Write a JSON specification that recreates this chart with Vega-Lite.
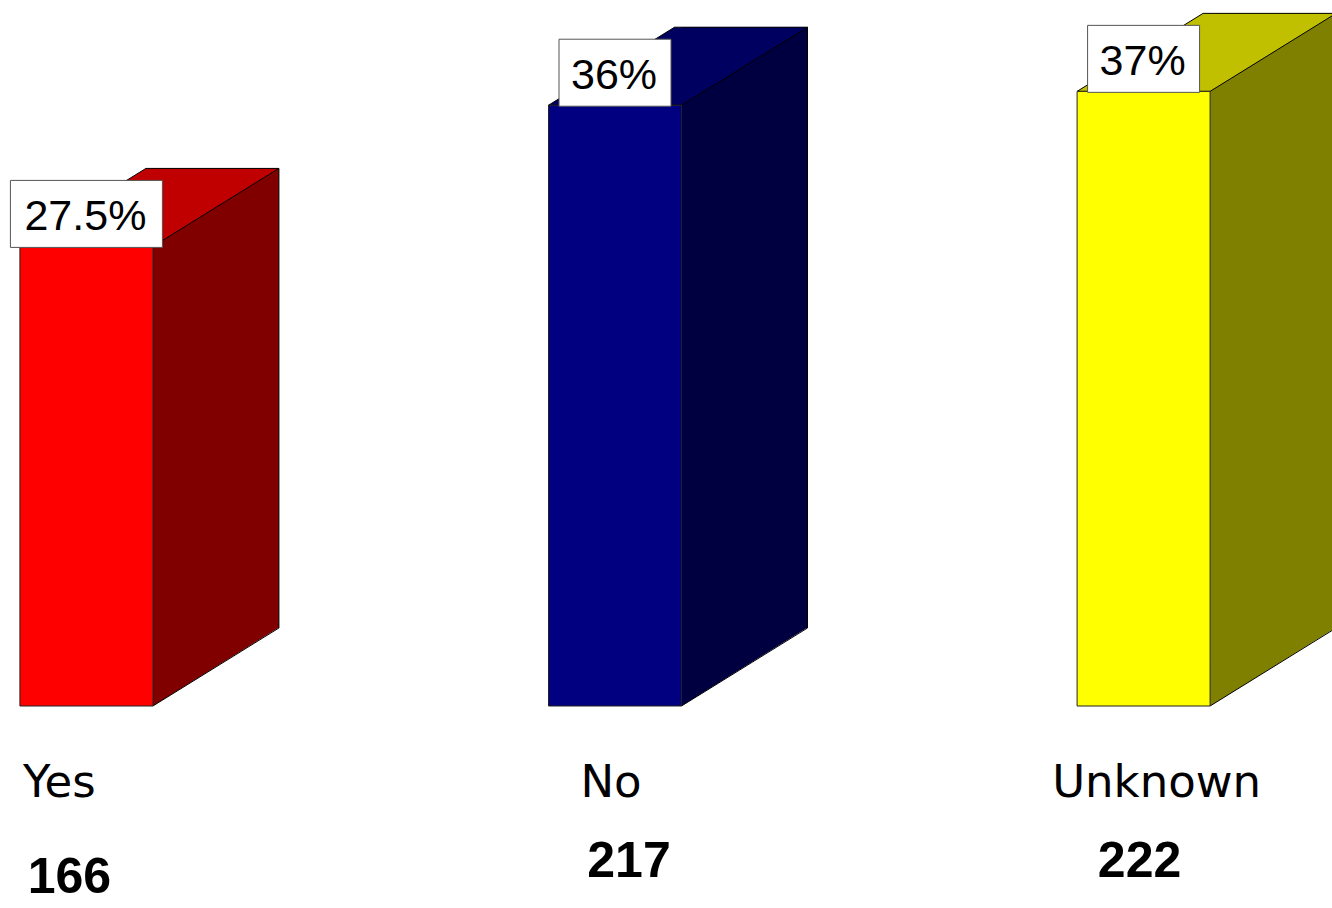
{
  "$schema": "https://vega.github.io/schema/vega-lite/v6.json",
  "width": 1332,
  "height": 706,
  "autosize": {"type": "none"},
  "padding": {"left": 0, "top": 0, "right": 0, "bottom": 202},
  "background": "white",
  "config": {"view": {"stroke": null}},
  "data": {
    "values": [
      {"cat": "Yes", "count": 166, "pct": "27.5%"},
      {"cat": "No", "count": 217, "pct": "36%"},
      {"cat": "Unknown", "count": 222, "pct": "37%"}
    ]
  },
  "encoding": {
    "x": {
      "field": "cat",
      "type": "nominal",
      "sort": ["Yes", "No", "Unknown"],
      "scale": {"paddingInner": 0.4801, "paddingOuter": 0},
      "axis": null
    }
  },
  "layer": [
    {
      "mark": {"type": "bar", "width": 126, "xOffset": 78.5, "yOffset": -78},
      "encoding": {
        "y": {"field": "count", "type": "quantitative", "scale": {"domain": [0, 255], "nice": false, "zero": true}, "axis": null},
        "fill": {"field": "cat", "type": "nominal", "scale": {"domain": ["Yes", "No", "Unknown"], "range": ["#800000", "#000040", "#808000"]}, "legend": null}
      }
    },
    {
      "mark": {"type": "point", "shape": "M0,0 L0,-78.5 L126,-78.5 Z", "size": 4, "filled": true, "strokeWidth": 0, "opacity": 1, "xOffset": 15.5},
      "encoding": {
        "y": {"datum": 0, "type": "quantitative"},
        "fill": {"field": "cat", "type": "nominal", "scale": {"domain": ["Yes", "No", "Unknown"], "range": ["#800000", "#000040", "#808000"]}, "legend": null}
      }
    },
    {
      "mark": {"type": "point", "shape": "M0,0 L133,0 L259,-78 L126,-78 Z", "size": 4, "filled": true, "stroke": "black", "strokeWidth": 1, "opacity": 1, "xOffset": -117.5},
      "encoding": {
        "y": {"field": "count", "type": "quantitative"},
        "fill": {"field": "cat", "type": "nominal", "scale": {"domain": ["Yes", "No", "Unknown"], "range": ["#C00000", "#000060", "#C0C000"]}, "legend": null}
      }
    },
    {
      "mark": {"type": "rule", "stroke": "black", "strokeWidth": 1, "xOffset": 141.5, "yOffset": -78, "y2Offset": -78},
      "encoding": {
        "y": {"field": "count", "type": "quantitative"},
        "y2": {"datum": 0}
      }
    },
    {
      "mark": {"type": "point", "shape": "M0,0 L126,-78", "size": 4, "filled": false, "stroke": "black", "strokeWidth": 1, "opacity": 1, "xOffset": 15.5},
      "encoding": {"y": {"datum": 0, "type": "quantitative"}}
    },
    {
      "mark": {"type": "bar", "width": 133, "xOffset": -51, "stroke": "#222222", "strokeWidth": 1},
      "encoding": {
        "y": {"field": "count", "type": "quantitative"},
        "fill": {"field": "cat", "type": "nominal", "scale": {"domain": ["Yes", "No", "Unknown"], "range": ["#FF0000", "#000080", "#FFFF00"]}, "legend": null}
      }
    },
    {
      "transform": [{"filter": "datum.cat === 'Yes'"}],
      "mark": {"type": "point", "shape": "M-76,1 L76,1 L76,-66 L-76,-66 Z", "size": 4, "filled": true, "fill": "white", "stroke": "#555555", "strokeWidth": 1, "opacity": 1, "xOffset": -51},
      "encoding": {"y": {"field": "count", "type": "quantitative"}}
    },
    {
      "transform": [{"filter": "datum.cat !== 'Yes'"}],
      "mark": {"type": "point", "shape": "M-56,1 L56,1 L56,-66 L-56,-66 Z", "size": 4, "filled": true, "fill": "white", "stroke": "#555555", "strokeWidth": 1, "opacity": 1, "xOffset": -51},
      "encoding": {"y": {"field": "count", "type": "quantitative"}}
    },
    {
      "mark": {"type": "text", "font": "Liberation Sans", "fontSize": 43, "align": "center", "baseline": "alphabetic", "dx": -52, "dy": -16, "color": "black"},
      "encoding": {
        "y": {"field": "count", "type": "quantitative"},
        "text": {"field": "pct"}
      }
    },
    {
      "transform": [{"filter": "datum.cat === 'Yes'"}],
      "mark": {"type": "text", "font": "DejaVu Sans", "fontSize": 45, "align": "center", "baseline": "alphabetic", "dx": -78, "dy": 91, "color": "black"},
      "encoding": {"y": {"datum": 0, "type": "quantitative"}, "text": {"field": "cat"}}
    },
    {
      "transform": [{"filter": "datum.cat === 'No'"}],
      "mark": {"type": "text", "font": "DejaVu Sans", "fontSize": 45, "align": "center", "baseline": "alphabetic", "dx": -55, "dy": 91, "color": "black"},
      "encoding": {"y": {"datum": 0, "type": "quantitative"}, "text": {"field": "cat"}}
    },
    {
      "transform": [{"filter": "datum.cat === 'Unknown'"}],
      "mark": {"type": "text", "font": "DejaVu Sans", "fontSize": 45, "align": "center", "baseline": "alphabetic", "dx": -38, "dy": 91, "color": "black"},
      "encoding": {"y": {"datum": 0, "type": "quantitative"}, "text": {"field": "cat"}}
    },
    {
      "transform": [{"filter": "datum.cat === 'Yes'"}],
      "mark": {"type": "text", "font": "Liberation Sans", "fontWeight": "bold", "fontSize": 50, "align": "center", "baseline": "alphabetic", "dx": -68, "dy": 187, "color": "black"},
      "encoding": {"y": {"datum": 0, "type": "quantitative"}, "text": {"field": "count"}}
    },
    {
      "transform": [{"filter": "datum.cat === 'No'"}],
      "mark": {"type": "text", "font": "Liberation Sans", "fontWeight": "bold", "fontSize": 50, "align": "center", "baseline": "alphabetic", "dx": -37, "dy": 171, "color": "black"},
      "encoding": {"y": {"datum": 0, "type": "quantitative"}, "text": {"field": "count"}}
    },
    {
      "transform": [{"filter": "datum.cat === 'Unknown'"}],
      "mark": {"type": "text", "font": "Liberation Sans", "fontWeight": "bold", "fontSize": 50, "align": "center", "baseline": "alphabetic", "dx": -55, "dy": 171, "color": "black"},
      "encoding": {"y": {"datum": 0, "type": "quantitative"}, "text": {"field": "count"}}
    }
  ],
  "resolve": {"scale": {"fill": "independent"}}
}
